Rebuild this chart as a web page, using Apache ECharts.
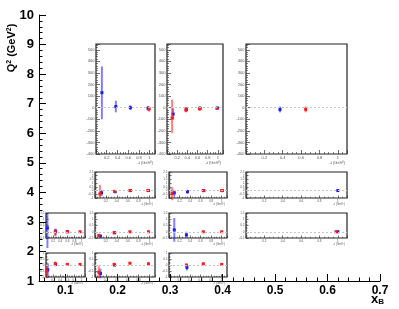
<!DOCTYPE html>
<html><head><meta charset="utf-8">
<script src="https://cdn.jsdelivr.net/npm/echarts@6/dist/echarts.min.js"></script>
<style>html,body{margin:0;padding:0;background:#fff}#c{width:399px;height:309px}</style>
</head><body><div id="c"></div>
<script>
// ---- main axes ----
const mainXLabels = ['0.1','0.2','0.3','0.4','0.5','0.6','0.7'];
const mainYLabels = ['1','2','3','4','5','6','7','8','9','10'];
const panelXLabels = ['0.2','0.4','0.6','0.8','1'];

// ---- big panels (x, value, low, high) ----
const A_blue = [[0.11,130,-100,356],[0.37,10,-40,60],[0.64,0,-20,20],[0.97,-5,-25,15]];
const A_red  = [[0.99,-10,-35,10]];
const B_red  = [[0.10,-90,-220,70],[0.37,-20,-40,0],[0.64,-10,-25,10],[0.98,-5,-15,5]];
const B_blue = [[0.12,-55,-100,-5],[0.38,-15,-35,5],[0.65,-5,-20,10],[0.99,-3,-12,6]];
const C_blue = [[0.37,-15,-40,10]];
const C_red  = [[0.65,-15,-40,10]];
// ---- row 1 (Q2 ~ 4) ----
const r1c2_red  = [[0.09,-0.45,-0.9,0.75],[0.36,-0.1,-0.25,0.05],[0.64,0,-0.08,0.08],[0.97,0.02,-0.05,0.08]];
const r1c2_blue = [[0.12,-0.3,-0.73,0.08],[0.37,-0.15,-0.35,0.05],[0.65,0,-0.06,0.06],[0.98,0,-0.05,0.05]];
const r1c3_red  = [[0.06,-0.4,-1.3,0.45],[0.65,0,-0.1,0.1],[1.0,0,-0.06,0.06]];
const r1c3_blue = [[0.10,-0.3,-0.8,0.1],[0.35,-0.15,-0.4,0.1],[0.66,0,-0.08,0.08],[1.01,0,-0.05,0.05]];
const r1c4_blue = [[1.0,0,-0.05,0.05]];
// ---- row 2 (Q2 ~ 2.6) ----
const r2c1_blue = [[0.04,0.3,-1.3,1.5],[0.27,0.05,-0.3,0.25],[0.60,0,-0.06,0.06]];
const r2c1_red  = [[0.26,0,-0.35,0.2],[0.61,0,-0.08,0.08],[0.96,0,-0.05,0.05]];
const r2c2_red  = [[0.07,-0.3,-0.45,-0.15],[0.35,-0.08,-0.15,0],[0.64,0,-0.05,0.05],[0.98,0,-0.05,0.05]];
const r2c2_blue = [[0.10,-0.35,-0.45,-0.25],[0.36,-0.08,-0.14,-0.02]];
const r2c3_blue = [[0.10,0.15,-0.8,1.1],[0.33,-0.25,-0.45,0]];
const r2c3_red  = [[0.65,0,-0.05,0.05],[1.0,0,-0.05,0.05]];
const r2c4_red  = [[0.98,0,-0.05,0.05]];
const r2c4_blue = [[1.0,0,-0.04,0.04]];
// ---- row 3 (Q2 ~ 1.5) ----
const r3c1_red  = [[0.02,-0.5,-1.1,0],[0.26,0.1,-0.1,0.3],[0.60,0.05,-0.05,0.15],[0.96,0.05,-0.05,0.12]];
const r3c1_blue = [[0.05,-0.4,-0.95,0.15],[0.27,0.05,-0.1,0.2]];
const r3c2_red  = [[0.07,-0.6,-1.1,-0.1],[0.35,0.05,-0.05,0.15],[0.64,0.15,0.05,0.25],[0.98,0.1,0,0.2]];
const r3c2_blue = [[0.10,-0.7,-1.1,-0.3],[0.36,0,-0.1,0.1]];
const r3c3_red  = [[0.33,0,-0.1,0.1],[0.65,0.1,0,0.2],[1.0,0.05,-0.05,0.15]];
const r3c3_blue = [[0.34,-0.2,-0.45,0.05]];

// ---- layout (pixels) ----
const BIG_Y = {min:-400, max:550, interval:100, font:4};
const ROW1_Y = {min:-1, max:2.5, interval:0.5, font:3};
const ROW2_Y = {min:-0.5, max:1.5, interval:0.5, font:3};
const ROW3_Y = {min:-1, max:1, interval:0.5, font:3};
const panels = [
  {box:[96,44,59,110], y:BIG_Y, blue:A_blue, red:A_red, big:true},
  {box:[167,44,56,110], y:BIG_Y, blue:B_blue, red:B_red, big:true},
  {box:[246,44,101,110], y:BIG_Y, blue:C_blue, red:C_red, big:true},
  {box:[95,172,60,26], y:ROW1_Y, blue:r1c2_blue, red:r1c2_red},
  {box:[169,172,58,26], y:ROW1_Y, blue:r1c3_blue, red:r1c3_red},
  {box:[246,172,101,26], y:ROW1_Y, blue:r1c4_blue, red:[]},
  {box:[46,213,39,25], y:ROW2_Y, blue:r2c1_blue, red:r2c1_red},
  {box:[95,213,60,25], y:ROW2_Y, blue:r2c2_blue, red:r2c2_red},
  {box:[169,213,58,25], y:ROW2_Y, blue:r2c3_blue, red:r2c3_red},
  {box:[246,213,101,25], y:ROW2_Y, blue:r2c4_blue, red:r2c4_red},
  {box:[46,253,39,24], y:ROW3_Y, blue:r3c1_blue, red:r3c1_red},
  {box:[95,253,60,24], y:ROW3_Y, blue:r3c2_blue, red:r3c2_red},
  {box:[169,253,58,24], y:ROW3_Y, blue:r3c3_blue, red:r3c3_red}
];

const W = 399, H = 309;
const FONT = 'Liberation Sans, Arial, Helvetica, sans-serif';
const BLUE = '#1a1aff', RED = '#ff1a1a';

function near(v, list){ return list.find(s => Math.abs(parseFloat(s) - v) < 1e-6); }

function renderErr(params, api){
  const x = api.value(0), y = api.value(1), lo = api.value(2), hi = api.value(3);
  const p = api.coord([x, y]), pl = api.coord([x, lo]), ph = api.coord([x, hi]);
  const c = api.visual('color');
  return {type:'group', children:[
    {type:'rect', shape:{x:p[0]-1, y:ph[1], width:2, height:Math.max(pl[1]-ph[1],1)},
     style:{fill:c, opacity:0.55}},
    {type:'rect', shape:{x:p[0]-1.5, y:p[1]-1.5, width:3, height:3}, style:{fill:c}}
  ]};
}

const grids = [{left:39, right:W-380, top:15, bottom:H-281, show:false}];
const xAxes = [{
  gridIndex:0, type:'value', min:0.05, max:0.7, splitNumber:7,
  axisLine:{onZero:false, lineStyle:{color:'#000', width:1}},
  axisTick:{inside:true, length:7, lineStyle:{color:'#000'}},
  minorTick:{show:true, splitNumber:5, length:3.5, lineStyle:{color:'#000'}},
  splitLine:{show:false},
  axisLabel:{margin:4, color:'#000', fontSize:12, fontWeight:'bold', fontFamily:FONT,
    formatter: v => near(v, mainXLabels) || ''}
}];
const yAxes = [{
  gridIndex:0, type:'value', min:1, max:10, interval:1,
  axisLine:{show:true, onZero:false, lineStyle:{color:'#000', width:1}},
  axisTick:{show:true, inside:true, length:7, lineStyle:{color:'#000'}},
  minorTick:{show:true, splitNumber:5, length:3.5, lineStyle:{color:'#000'}},
  splitLine:{show:false},
  axisLabel:{margin:5, color:'#000', fontSize:13, fontWeight:'bold', fontFamily:FONT,
    formatter: v => near(v, mainYLabels) || ''}
}];
const series = [];

panels.forEach((p, i) => {
  const gi = i + 1;
  const [l, t, w, h] = p.box;
  grids.push({left:l, top:t, width:w, height:h, show:true, borderColor:'#222', borderWidth:1.2, backgroundColor:'#fff'});
  const f = p.y.font;
  xAxes.push({
    gridIndex:gi, type:'value', min:0, max:1.1, interval:0.2, position:'bottom',
    axisLine:{show:false, onZero:false},
    axisTick:{inside:true, length:p.big?4:2.5, lineStyle:{color:'#333', width:0.7}},
    minorTick:{show:true, splitNumber:4, length:p.big?2:1.3, lineStyle:{color:'#333', width:0.6}},
    splitLine:{show:false},
    axisLabel:{margin:1.5, fontSize:f, color:'#555', fontFamily:FONT,
      formatter: v => near(v, panelXLabels) || ''},
    name:'-t (GeV\u00b2)', nameLocation:'end', nameGap:-2,
    nameTextStyle:{fontSize:f, color:'#555', align:'right', verticalAlign:'top', padding:[p.big?7:5,0,0,0], fontFamily:FONT}
  });
  yAxes.push({
    gridIndex:gi, type:'value', min:p.y.min, max:p.y.max, interval:p.y.interval, position:'left',
    axisLine:{show:false, onZero:false},
    axisTick:{inside:true, length:p.big?4:2.5, lineStyle:{color:'#333', width:0.7}},
    minorTick:{show:true, splitNumber:p.big?5:4, length:p.big?2:1.3, lineStyle:{color:'#333', width:0.6}},
    splitLine:{show:false},
    axisLabel:{margin:1.5, fontSize:f, color:'#555', fontFamily:FONT,
      formatter: v => (Math.abs(v - p.y.max) < 1e-9 && Math.abs(((p.y.max - p.y.min) / p.y.interval) % 1) > 1e-6) ? '' : String(v)}
  });
  series.push({type:'line', xAxisIndex:gi, yAxisIndex:gi, data:[], silent:true,
    markLine:{silent:true, symbol:'none', label:{show:false},
      lineStyle:{color:'#c4c4c4', type:[2,2], width:1}, data:[{yAxis:0}]}});
  series.push({type:'custom', xAxisIndex:gi, yAxisIndex:gi, renderItem:renderErr,
    itemStyle:{color:BLUE}, data:p.blue, encode:{x:0, y:1}, clip:false, silent:true});
  series.push({type:'custom', xAxisIndex:gi, yAxisIndex:gi, renderItem:renderErr,
    itemStyle:{color:RED}, data:p.red, encode:{x:0, y:1}, clip:false, silent:true});
});

const chart = echarts.init(document.getElementById('c'), null, {renderer:'canvas'});
chart.setOption({
  animation:false,
  backgroundColor:'#fff',
  grid:grids, xAxis:xAxes, yAxis:yAxes, series:series,
  graphic:[
    {type:'text', x:12, y:48, rotation:Math.PI/2,
     style:{text:'{a|Q}{s|2}{a| (GeV}{s|2}{a|)}', align:'center', verticalAlign:'middle',
       rich:{a:{fontSize:11, fontWeight:'bold', fontFamily:FONT, fill:'#000'},
             s:{fontSize:7, fontWeight:'bold', fontFamily:FONT, fill:'#000', verticalAlign:'top', padding:[0,0,5,0]}}}},
    {type:'text', x:371, y:292,
     style:{text:'{a|x}{s|B}', align:'left', verticalAlign:'top',
       rich:{a:{fontSize:13, fontWeight:'bold', fontFamily:FONT, fill:'#000'},
             s:{fontSize:8, fontWeight:'bold', fontFamily:FONT, fill:'#000', padding:[6,0,0,0]}}}}
  ]
});
</script></body></html>
